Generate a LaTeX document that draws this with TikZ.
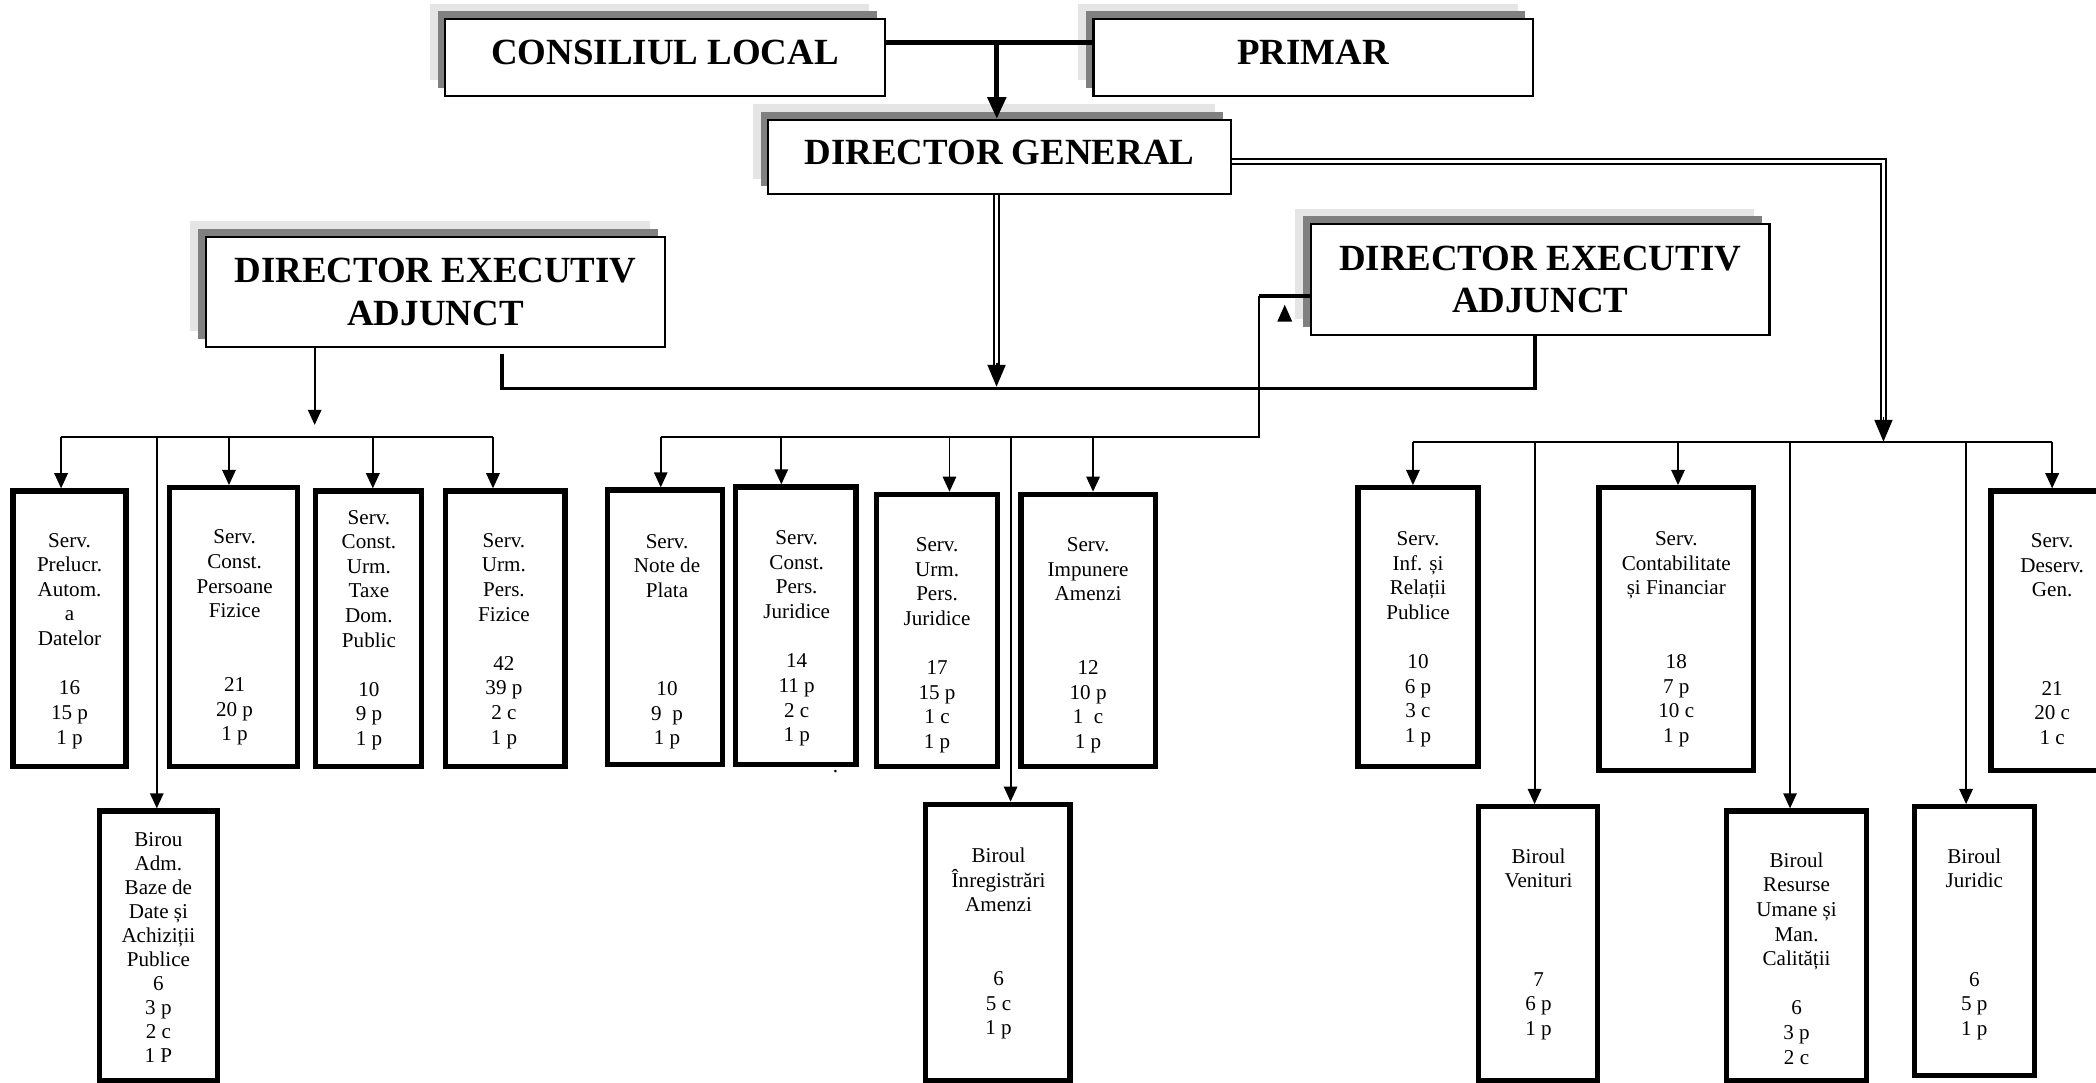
\documentclass[tikz,border=0pt]{standalone}
\usepackage{fontspec}
\setmainfont{Liberation Serif}
\usetikzlibrary{arrows.meta,shadows}
\newcommand\dpx{0.13367mm}

\begin{document}
\begin{tikzpicture}[x=\dpx,y=-\dpx,
  capo/.style={draw,line width=.6pt,fill=white,align=center,inner sep=0pt,
    font=\fontsize{10.5}{12.1}\selectfont\bfseries,
    general shadow={fill=black!10,shadow xshift=-1.54mm,shadow yshift=1.56mm},
    general shadow={fill=black!50,shadow xshift=-.78mm,shadow yshift=.8mm}},
  serv/.style={draw,line width=1.5pt,fill=white,inner sep=0pt},
  txt/.style={align=center,inner sep=0pt,font=\fontsize{6}{7}\selectfont,
    execute at begin node=\strut,execute at end node=\strut},
  filo/.style={line width=.55pt},
  grosso/.style={line width=1pt},
  freccia/.style={filo,-{Triangle[width=3.8pt,length=4.3pt]}},
  doppia/.style={double,double distance=.9pt,line width=.5pt},
  punta/.style={-{Triangle[width=5.1pt,length=6.2pt]}}]

\useasboundingbox (0,0) rectangle (1568,810);
\clip (0,0) rectangle (1568,810);

% conducere
\node[capo,minimum width=43.94mm,minimum height=7.62mm,text depth=2.7pt] (cl) at (497.5,43) {CONSILIUL LOCAL};
\node[capo,minimum width=43.94mm,minimum height=7.62mm,text depth=2.7pt] (pr) at (982.4,43) {PRIMAR};
\node[capo,minimum width=46.22mm,minimum height=7.41mm,text depth=2.7pt] (dg) at (747.7,117.5) {DIRECTOR GENERAL};
\node[capo,minimum width=45.98mm,minimum height=10.96mm] (dl) at (325.8,218.3) {DIRECTOR EXECUTIV\\ADJUNCT};
\node[capo,minimum width=45.86mm,minimum height=11.05mm] (dr) at (1152.2,209.2) {DIRECTOR EXECUTIV\\ADJUNCT};

% servicii stanga
\node[serv,minimum width=11.31mm,minimum height=27.56mm] (s1) at (52,470.4) {};
\node[serv,minimum width=12.79mm,minimum height=27.90mm] (s2) at (174.9,469.2) {};
\node[serv,minimum width=10.64mm,minimum height=27.56mm] (s3) at (275.6,470.4) {};
\node[serv,minimum width=11.96mm,minimum height=27.56mm] (s4) at (378,470.4) {};
\node[serv,minimum width=11.80mm,minimum height=26.97mm] (b1) at (118.5,707.6) {};

% servicii centru
\node[serv,minimum width=11.52mm,minimum height=27.46mm] (s5) at (497.6,469.3) {};
\node[serv,minimum width=12.02mm,minimum height=27.76mm] (s6) at (595.4,468.2) {};
\node[serv,minimum width=12.06mm,minimum height=27.23mm] (s7) at (700.9,471.7) {};
\node[serv,minimum width=13.43mm,minimum height=27.23mm] (s8) at (814,471.7) {};
\node[serv,minimum width=14.46mm,minimum height=27.64mm] (b2) at (746.4,705.1) {};

% servicii dreapta
\node[serv,minimum width=11.98mm,minimum height=27.90mm] (s9) at (1060.8,469.2) {};
\node[serv,minimum width=15.44mm,minimum height=28.30mm] (s10) at (1254,470.7) {};
\node[serv,minimum width=12.26mm,minimum height=27.96mm] (s11) at (1535.2,471.9) {};
\node[serv,minimum width=11.95mm,minimum height=27.40mm] (b3) at (1150.6,706) {};
\node[serv,minimum width=13.97mm,minimum height=26.97mm] (b4) at (1344,707.6) {};
\node[serv,minimum width=12.03mm,minimum height=26.89mm] (b5) at (1477,704.1) {};

% testi
\node[txt] (s1t) at (52,480.5) {Serv.\\Prelucr.\\Autom.\\a\\Datelor\\~\\16\\15 p\\1 p};
\node[txt] (s2t) at (175.5,478) {Serv.\\Const.\\Persoane\\Fizice\\~\\~\\21\\20 p\\1 p};
\node[txt] (s3t) at (276,472.4) {Serv.\\Const.\\Urm.\\Taxe\\Dom.\\Public\\~\\10\\9 p\\1 p};
\node[txt] (s4t) at (377,480.6) {Serv.\\Urm.\\Pers.\\Fizice\\~\\42\\39 p\\2 c\\1 p};
\node[txt,font=\fontsize{6}{6.8}\selectfont] (b1t) at (118.5,711.5) {Birou\\Adm.\\Baze de\\Date și\\Achiziții\\Publice\\6\\3 p\\2 c\\1 P};
\node[txt] (s5t) at (499,481.2) {Serv.\\Note de\\Plata\\~\\~\\~\\10\\9~ p\\1 p};
\node[txt] (s6t) at (596,478.7) {Serv.\\Const.\\Pers.\\Juridice\\~\\14\\11 p\\2 c\\1 p};
\node[txt] (s7t) at (701,483.9) {Serv.\\Urm.\\Pers.\\Juridice\\~\\17\\15 p\\1 c\\1 p};
\node[txt] (s8t) at (814,483.9) {Serv.\\Impunere\\Amenzi\\~\\~\\12\\10 p\\1~ c\\1 p};
\node[txt] (b2t) at (747,707.1) {Biroul\\Înregistrări\\Amenzi\\~\\~\\6\\5 c\\1 p};
\node[txt] (s9t) at (1060.8,479.3) {Serv.\\Inf. și\\Relații\\Publice\\~\\10\\6 p\\3 c\\1 p};
\node[txt] (s10t) at (1254,479.3) {Serv.\\Contabilitate\\și Financiar\\~\\~\\18\\7 p\\10 c\\1 p};
\node[txt] (s11t) at (1535.2,480.8) {Serv.\\Deserv.\\Gen.\\~\\~\\~\\21\\20 c\\1 c};
\node[txt] (b3t) at (1151,707.5) {Biroul\\Venituri\\~\\~\\~\\7\\6 p\\1 p};
\node[txt] (b4t) at (1344,719.7) {Biroul\\Resurse\\Umane și\\Man.\\Calității\\~\\6\\3 p\\2 c};
\node[txt] (b5t) at (1477,707.5) {Biroul\\Juridic\\~\\~\\~\\6\\5 p\\1 p};
\node[txt] (pt) at (625,574.5) {.};

% punti
\coordinate (j1) at (745.7,32);
\coordinate (j2) at (1409,120.7);
\coordinate (j3) at (745.5,289.3);
\coordinate (t1) at (235.4,317.9);
\coordinate (bL) at (375.4,290.5);
\coordinate (bR) at (1148.2,290.5);
\coordinate (k1) at (941.6,221.4);
\coordinate (k2) at (941.6,327.1);

% sus
\draw[line width=1.5pt] (cl.east |- j1) -- (pr.west |- j1); % orizzontale
\draw[line width=1.5pt,punta] (j1) -- (j1 |- dg.north); % verticale

% linee doppie
\draw[doppia,shorten >=5pt] (dg.east |- j2) -- (j2) -- (1409,330.4);
\draw[filo,punta] (1409,312) -- (1409,330.4);
\draw[doppia,shorten >=5pt] (dg.south -| j3) -- (j3);
\draw[filo,punta] ([yshift=2.4mm]j3) -- (j3);

% adjuncti
\draw[freccia] (dl.south -| t1) -- (t1);
\draw[grosso,shorten <=.6mm] (dl.south -| bL) -- (bL) -- (bR) -- (dr.south -| bR);
\draw[grosso] (dr.west |- k1) -- (k1);
\draw[filo] (k1) -- (k2) -- (494.3,327.1);
\fill (955.5,240.6) -- (966.7,240.6) -- (961.1,228) -- cycle; % punta

% bara stanga
\coordinate (l0) at (45.7,327.2);
\coordinate (l1) at (117.3,327.2);
\coordinate (l2) at (171.3,327.2);
\coordinate (l3) at (278.9,327.2);
\coordinate (l4) at (368.8,327.2);
\draw[filo] (l0) -- (l4);
\draw[freccia] (l0) -- (l0 |- s1.north);
\draw[freccia] (l1) -- (l1 |- b1.north);
\draw[freccia] (l2) -- (l2 |- s2.north);
\draw[freccia] (l3) -- (l3 |- s3.north);
\draw[freccia] (l4) -- (l4 |- s4.north);

% bara centru
\coordinate (c1) at (494.3,327.1);
\coordinate (c2) at (584.5,327.1);
\coordinate (c3) at (710.3,327.1);
\coordinate (c4) at (756,327.1);
\coordinate (c5) at (817.7,327.1);
\draw[freccia] (c1) -- (c1 |- s5.north);
\draw[freccia] (c2) -- (c2 |- s6.north);
\draw[freccia] (c3) -- (c3 |- s7.north);
\draw[freccia] (c4) -- (c4 |- b2.north);
\draw[freccia] (c5) -- (c5 |- s8.north);

% bara dreapta
\coordinate (r1) at (1057,330.4);
\coordinate (r2) at (1148,330.4);
\coordinate (r3) at (1255.3,330.4);
\coordinate (r4) at (1339.1,330.4);
\coordinate (r5) at (1470.8,330.4);
\coordinate (r6) at (1535.2,330.4);
\draw[filo] (r1) -- (r6);
\draw[freccia] (r1) -- (r1 |- s9.north);
\draw[freccia] (r2) -- (r2 |- b3.north);
\draw[freccia] (r3) -- (r3 |- s10.north);
\draw[freccia] (r4) -- (r4 |- b4.north);
\draw[freccia] (r5) -- (r5 |- b5.north);
\draw[freccia] (r6) -- (r6 |- s11.north);

\end{tikzpicture}
\end{document}
